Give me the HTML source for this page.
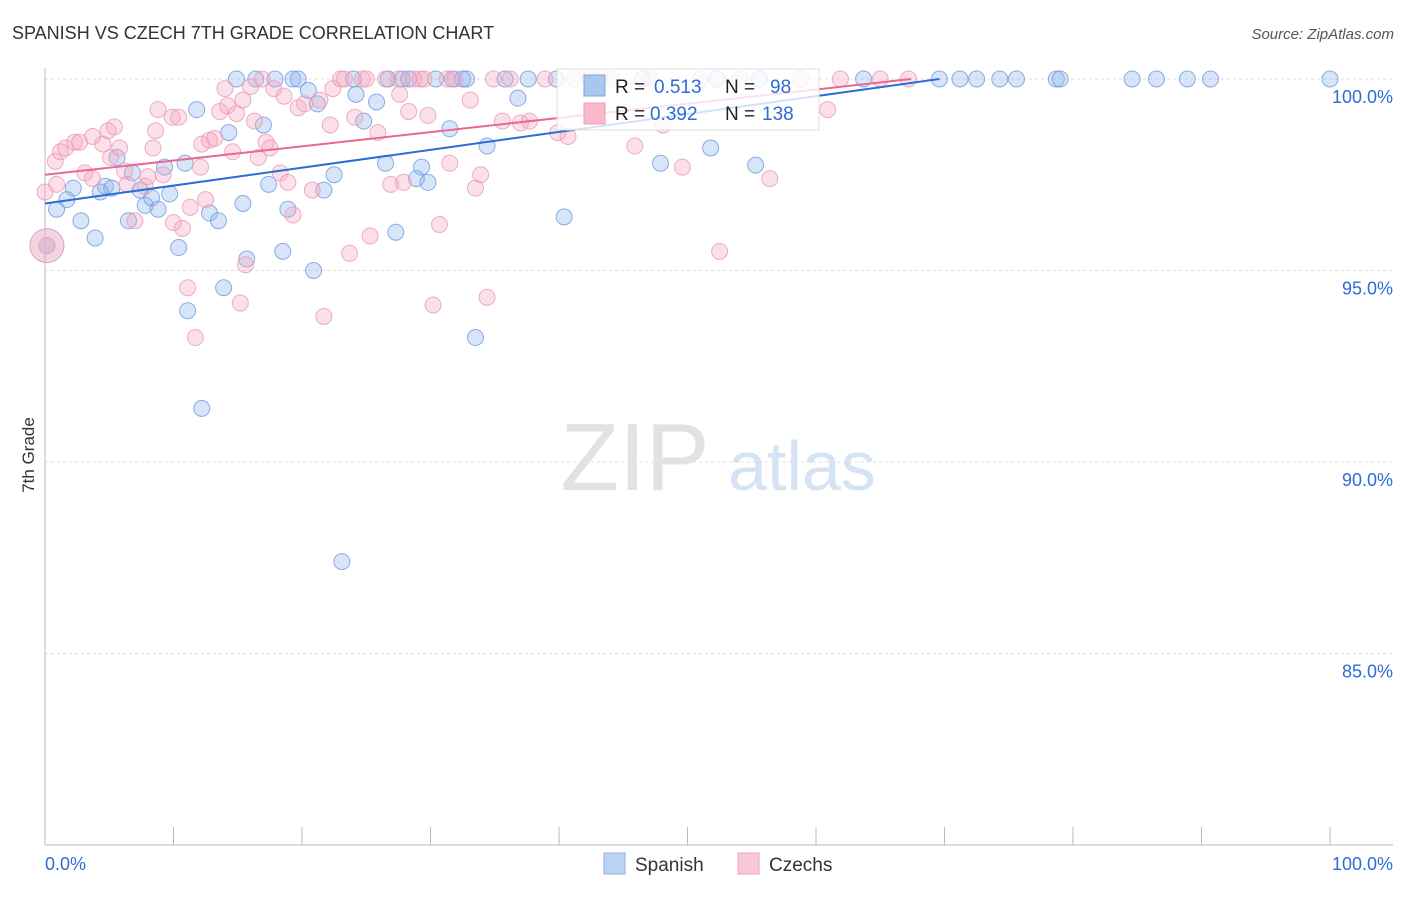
<!DOCTYPE html>
<html><head><meta charset="utf-8"><style>
body{margin:0;background:#fff;font-family:"Liberation Sans",sans-serif;}
svg text{font-family:"Liberation Sans",sans-serif;}
</style></head><body>
<svg id="chart" width="1406" height="892" viewBox="0 0 1406 892" xmlns="http://www.w3.org/2000/svg">
<text x="12" y="39" font-size="18" fill="#333">SPANISH VS CZECH 7TH GRADE CORRELATION CHART</text>
<text x="1394" y="39" font-size="15" fill="#555" text-anchor="end" font-style="italic">Source: ZipAtlas.com</text>
<text transform="translate(34,455) rotate(-90)" font-size="17" fill="#333" text-anchor="middle">7th Grade</text>
<g>
<text x="635" y="490" font-size="96" fill="#e2e2e2" text-anchor="middle" font-family="Liberation Serif, serif">ZIP</text>
<text x="802" y="490" font-size="70" fill="#d5e3f5" text-anchor="middle">atlas</text>
</g>
<g id="grid"></g><g id="axes"></g><g id="pts"></g><g id="lines"></g>
<g>
<rect x="557" y="69" width="262" height="61" fill="#fff" fill-opacity="0.8" stroke="#ddd"/>
<rect x="584" y="75" width="21" height="21" fill="#a9c6ee" stroke="#7da6e3"/>
<text x="615" y="93" font-size="19" fill="#222">R = </text><text x="654" y="93" font-size="19" fill="#2f6bd6">0.513</text>
<text x="725" y="93" font-size="19" fill="#222">N =</text><text x="770" y="93" font-size="19" fill="#2f6bd6">98</text>
<rect x="584" y="103" width="21" height="21" fill="#f7b9cb" stroke="#ee9ab4"/>
<text x="615" y="120" font-size="19" fill="#222">R = </text><text x="650" y="120" font-size="19" fill="#2f6bd6">0.392</text>
<text x="725" y="120" font-size="19" fill="#222">N =</text><text x="762" y="120" font-size="19" fill="#2f6bd6">138</text>
</g>
<g>
<rect x="604" y="853" width="21" height="21" fill="#bcd3f3" stroke="#8db0e6"/>
<text x="635" y="871" font-size="19" fill="#333">Spanish</text>
<rect x="738" y="853" width="21" height="21" fill="#f9c8d6" stroke="#eea2bb"/>
<text x="769" y="871" font-size="19" fill="#333">Czechs</text>
</g>
</svg>
<script>
const yTicks=[100,95,90,85];
const xTickLabels=["0.0%","100.0%"];
const blueX=[14.9,16.4,17.9,19.3,19.7,24.0,26.7,27.8,28.3,30.4,31.7,32.5,32.8,35.8,37.6,39.8,46.5,52.3,55.6,63.7,69.6,71.2,72.5,74.3,75.6,78.7,79.0,84.6,86.5,88.9,90.7,100,
11.8,20.5,21.2,24.2,25.8,36.8,14.3,17.0,31.5,34.4,5.6,10.9,9.3,26.5,29.3,47.9,51.8,55.3,6.8,22.5,2.2,4.7,5.2,4.3,7.4,9.7,17.4,21.7,28.9,29.8,0.9,1.7,2.8,6.5,7.8,8.3,8.8,12.8,13.5,15.4,18.9,24.8,27.3,40.4,3.9,10.4,15.7,18.5,20.9,13.9,11.1,33.5,12.2,23.1,0.15];
const blueY=[100,100,100,100,100,100,100,100,100,100,100,100,100,100,100,100,100,100,100,100,100,100,100,100,100,100,100,100,100,100,100,100,
99.2,99.7,99.35,99.6,99.4,99.5,98.6,98.8,98.7,98.25,97.95,97.8,97.7,97.8,97.7,97.8,98.2,97.75,97.55,97.5,97.15,97.2,97.15,97.05,97.1,97.0,97.25,97.1,97.4,97.3,96.6,96.85,96.3,96.3,96.7,96.9,96.6,96.5,96.3,96.75,96.6,98.9,96.0,96.4,95.85,95.6,95.3,95.5,95.0,94.55,93.95,93.25,91.4,87.4,95.65];
const pinkX=[0.8,1.2,1.6,2.3,2.7,3.1,3.7,3.7,4.5,4.9,5.4,5.1,5.8,6.2,6.4,7.0,7.8,8.0,8.4,8.6,8.8,9.2,9.9,10.4,10.0,10.7,11.1,11.3,11.7,12.1,12.2,12.5,12.8,13.2,13.6,14.0,14.2,14.6,14.9,15.2,15.4,15.6,16.0,16.3,16.6,16.9,17.2,17.5,17.8,18.3,18.6,18.9,19.3,19.7,20.2,20.8,21.4,21.7,22.2,22.4,23.0,23.3,23.7,24.1,24.7,25.0,25.3,25.9,26.5,26.9,27.5,27.6,27.9,28.3,28.7,29.2,29.5,29.8,30.2,30.7,31.3,31.5,31.9,33.1,33.5,33.9,34.4,34.9,35.6,36.2,37.0,37.7,38.9,39.9,40.7,41.2,42.4,43.2,44.1,45.9,47.1,48.1,49.6,51.0,52.5,54.1,56.4,58.8,60.9,61.9,65.0,67.2,0.9,0,0.15];
const pinkY=[97.85,98.1,98.2,98.35,98.35,97.55,97.4,98.5,98.3,98.65,98.75,97.95,98.2,97.6,97.25,96.3,97.2,97.45,98.2,98.65,99.2,97.5,99.0,99.0,96.25,96.1,94.55,96.65,93.25,97.7,98.3,96.85,98.4,98.45,99.15,99.75,99.3,98.1,99.1,94.15,99.45,95.15,99.8,98.9,97.95,100,98.35,98.2,99.75,97.55,99.55,97.3,96.45,99.25,99.35,97.1,99.45,93.8,98.8,99.75,100,100,95.45,99.0,100,100,95.9,98.6,100,97.25,100,99.6,97.3,99.15,100,100,100,99.05,94.1,96.2,100,97.8,100,99.45,97.15,97.5,94.3,100,98.9,100,98.85,98.9,100,98.6,98.5,100,100,100,100,98.25,100,98.8,97.7,100,95.5,100,97.4,100,99.2,100,100,100,97.25,97.05,95.65];
const blueTrend=[[0,96.75],[69.6,100]];
const pinkTrend=[[0,97.5],[67.4,100]];
const NS="http://www.w3.org/2000/svg";
const X=v=>45+v*12.85, Y=v=>79+(100-v)*38.3;
function mk(tag,attrs,parent){const e=document.createElementNS(NS,tag);for(const k in attrs)e.setAttribute(k,attrs[k]);parent.appendChild(e);return e;}
const grid=document.getElementById('grid'),axes=document.getElementById('axes'),pts=document.getElementById('pts'),lines=document.getElementById('lines');
yTicks.forEach(t=>{
 const l=mk('line',{x1:45,x2:1393,y1:Y(t),y2:Y(t),stroke:'#ddd','stroke-dasharray':'3,3'},grid);
 
 
 const tx=mk('text',{x:1393,y:Y(t)+24,'font-size':18,fill:'#2f6bd6','text-anchor':'end'},grid);tx.textContent=t.toFixed(1)+'%';
 
 
});
mk('line',{x1:45,x2:45,y1:68,y2:845,stroke:'#bbb'},axes);
mk('line',{x1:45,x2:1393,y1:845,y2:845,stroke:'#bbb'},axes);
for(let i=0;i<=10;i++){const t=mk('line',{x1:X(i*10),x2:X(i*10),y1:827,y2:845,stroke:'#bbb'},axes);
 
 }
const xl0=mk('text',{x:45,y:870,'font-size':18,fill:'#2f6bd6'},axes);xl0.textContent=xTickLabels[0];


const xl1=mk('text',{x:1393,y:870,'font-size':18,fill:'#2f6bd6','text-anchor':'end'},axes);xl1.textContent=xTickLabels[1];


function draw(xs,ys,fill,stroke,name){xs.forEach((x,i)=>{
 const c=mk('circle',{cx:X(x),cy:Y(ys[i]),r:8,fill:fill,'fill-opacity':0.35,stroke:stroke,'stroke-opacity':0.8,'stroke-width':1},pts);
 
 });}
draw(blueX,blueY,'#8fb4ec','#6d9be0','spanish-point');
draw(pinkX,pinkY,'#f4a6c0','#eb9ab5','czech-point');
const big=mk('circle',{cx:X(pinkX[pinkX.length-1]),cy:Y(pinkY[pinkY.length-1]),r:17,fill:'#e7b0cc','fill-opacity':0.55,stroke:'#d9a5c5','stroke-width':1},pts);


const bl=mk('line',{x1:X(blueTrend[0][0]),y1:Y(blueTrend[0][1]),x2:X(blueTrend[1][0]),y2:Y(blueTrend[1][1]),stroke:'#2a6dd9','stroke-width':2},lines);


const pl=mk('line',{x1:X(pinkTrend[0][0]),y1:Y(pinkTrend[0][1]),x2:X(pinkTrend[1][0]),y2:Y(pinkTrend[1][1]),stroke:'#ea6891','stroke-width':2},lines);


</script>
</body></html>
